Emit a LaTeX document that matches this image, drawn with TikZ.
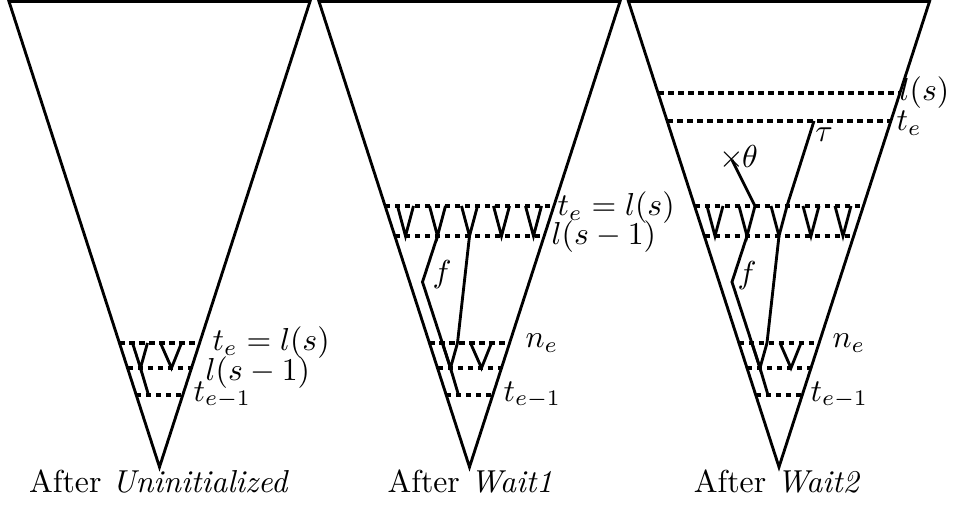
\documentclass[tikz,border=0pt]{standalone}
\newcommand\LowGroup{%
  \draw[dotln] (-40,343) -- (40,343);
  \draw[dotln] (-31.9,368) -- (31.9,368);
  \draw[dotln] (-23.2,395) -- (23.2,395);
  \draw[solidln] (-27,343) -- (-19,368) -- (-12,343);
  \draw[solidln] (-19,368) -- (-11,395);
  \draw[solidln] (1,343) -- (12,368) -- (22,343);
}
\newcommand\UpGroup{%
  \draw[dotln] (-84.1,206) -- (84.1,206);
  \draw[dotln] (-74.4,236) -- (74.4,236);
  \foreach \b in {-64,-32,0,32,64} {\draw[solidln] (\b-8,206) -- (\b,236) -- (\b+8,206);}
  \draw[solidln] (-32,236) -- (-47,282) -- (-19,368);
  \draw[solidln] (0,236) -- (-12,343);
}
\newcommand\Funnel{%
  \draw[solidln] (-150.5,1.5) -- (150.5,1.5) -- (0,467) -- cycle;
}
\begin{document}
\begin{tikzpicture}[x=0.315pt,y=-0.315pt,
  solidln/.style={line width=0.9pt, line join=miter},
  dotln/.style={line width=1.5pt, dash pattern=on 1.6pt off 1.55pt},
  lab/.style={anchor=west, inner sep=0pt},
  captxt/.style={anchor=base, inner sep=0pt},
  plain/.style={inner sep=0pt}]
\useasboundingbox (0,0) rectangle (953,507);

% ---- funnel 1
\begin{scope}[shift={(159.5,0)}]
  \Funnel
  \LowGroup
\end{scope}
\node[lab] (a1) at (212,343) {$t_e = l(s)$};
\node[lab] (a2) at (205,373) {$l(s-1)$};
\node[lab] (a3) at (193,395) {$t_{e-1}$};
\node[captxt] (c1) at (159,493) {After \textit{Uninitialized}};

% ---- funnel 2
\begin{scope}[shift={(469.5,0)}]
  \Funnel
  \UpGroup
  \LowGroup
\end{scope}
\node[lab] (b1) at (557,208) {$t_e = l(s)$};
\node[lab] (b2) at (551,237) {$l(s-1)$};
\node[plain] (bf) at (442,275) {$f$};
\node[lab] (b3) at (525,343) {$n_e$};
\node[lab] (b4) at (503,395) {$t_{e-1}$};
\node[captxt] (c2) at (470,493) {After \textit{Wait1}};

% ---- funnel 3
\begin{scope}[shift={(779,0)}]
  \Funnel
  \draw[dotln] (-120.5,93) -- (120.5,93);
  \draw[dotln] (-111.5,121) -- (111.5,121);
  \UpGroup
  \LowGroup
  \draw[solidln] (-24,206) -- (-47,160);
  \draw[solidln] (8,206) -- (35,121);
\end{scope}
\node[lab] (d1) at (899,93) {$l(s)$};
\node[lab] (d2) at (896,123) {$t_e$};
\node[plain] (dt) at (824,135) {$\tau$};
\node[plain] (dx) at (732,160) {$\times$};
\node[plain] (dth) at (750,156) {$\theta$};
\node[plain] (df) at (747,276) {$f$};
\node[lab] (d3) at (832,343) {$n_e$};
\node[lab] (d4) at (810,395) {$t_{e-1}$};
\node[captxt] (c3) at (777,493) {After \textit{Wait2}};
\end{tikzpicture}
\end{document}
